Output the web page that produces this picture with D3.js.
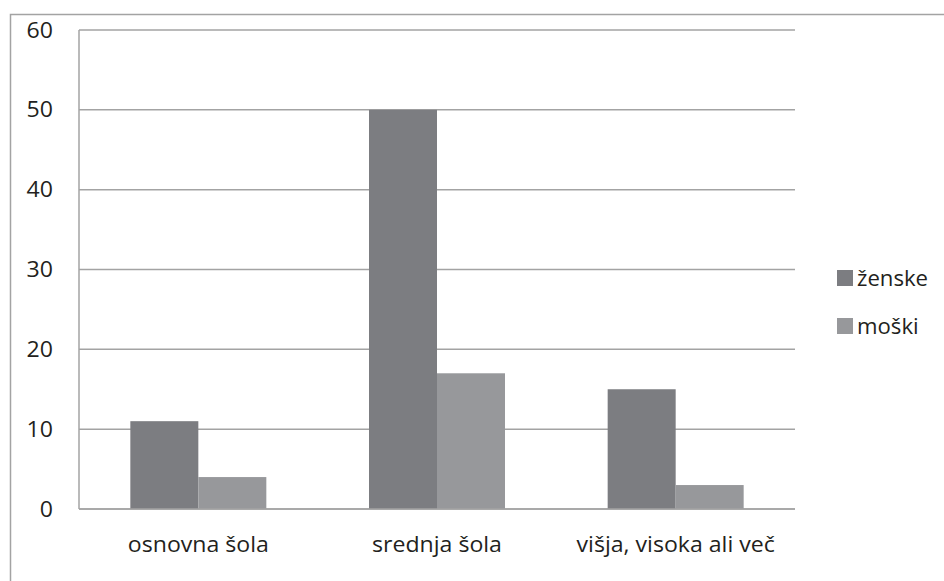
<!DOCTYPE html>
<html>
<head>
<meta charset="utf-8">
<script src="https://cdn.jsdelivr.net/npm/d3@7"></script>
<style>
  html, body { margin: 0; padding: 0; background: #fff; }
  svg { display: block; }
  text { font-family: "Open Sans", sans-serif; fill: #231f20; font-size: 21px; }
</style>
</head>
<body>
<svg id="chart" width="944" height="581"></svg>
<script>
// Education level by gender
const categories = ["osnovna šola", "srednja šola", "višja, visoka ali več"];
const seriesNames = ["ženske", "moški"];
const zenske = [11, 50, 15];
const moski = [4, 17, 3];
const yTicks = [0, 10, 20, 30, 40, 50, 60];

const colors = { "ženske": "#7c7d81", "moški": "#97989b" };
const values = { "ženske": zenske, "moški": moski };

// labels are drawn slightly wide
const stretch = 1.1;

const svg = d3.select("#chart");

// outer chart frame
svg.append("rect")
  .attr("x", 10.5).attr("y", 14.5)
  .attr("width", 960).attr("height", 600)
  .attr("fill", "none").attr("stroke", "#a3a3a3").attr("stroke-width", 1.5);

const plot = { left: 79, right: 795, top: 30, bottom: 509 };

const x = d3.scaleBand().domain(categories).range([plot.left, plot.right]);
const y = d3.scaleLinear().domain([0, 60]).range([plot.bottom, plot.top]);

// gridlines
svg.append("g").selectAll("line").data(yTicks).join("line")
  .attr("x1", plot.left).attr("x2", plot.right)
  .attr("y1", d => y(d)).attr("y2", d => y(d))
  .attr("stroke", "#a3a3a3").attr("stroke-width", 1.5);

// y axis line
svg.append("line")
  .attr("x1", plot.left).attr("x2", plot.left)
  .attr("y1", plot.top).attr("y2", plot.bottom)
  .attr("stroke", "#a3a3a3").attr("stroke-width", 1.5);

// y tick labels
svg.append("g").selectAll("text").data(yTicks).join("text")
  .attr("transform", d => `translate(53,${y(d)}) scale(${stretch},1)`)
  .attr("dy", "0.36em")
  .attr("text-anchor", "end")
  .text(d => d);

// bars: two adjacent bars centred in each category band
const barW = 68;
const groups = svg.append("g").selectAll("g").data(categories).join("g")
  .attr("transform", c => `translate(${x(c) + x.bandwidth() / 2 - barW},0)`);

groups.selectAll("rect").data((c, i) => seriesNames.map((s, j) => ({ s, j, v: values[s][i] }))).join("rect")
  .attr("x", d => d.j * barW)
  .attr("width", barW)
  .attr("y", d => y(d.v))
  .attr("height", d => y(0) - y(d.v))
  .attr("fill", d => colors[d.s]);

// zero baseline on top of bars
svg.append("line")
  .attr("x1", plot.left).attr("x2", plot.right)
  .attr("y1", y(0)).attr("y2", y(0))
  .attr("stroke", "#a3a3a3").attr("stroke-width", 1.5);

// category labels
svg.append("g").selectAll("text").data(categories).join("text")
  .attr("transform", c => `translate(${x(c) + x.bandwidth() / 2},552) scale(${stretch},1)`)
  .attr("text-anchor", "middle")
  .text(d => d);

// legend
const legend = svg.append("g").selectAll("g").data(seriesNames).join("g")
  .attr("transform", (d, i) => `translate(837,${270 + i * 48})`);
legend.append("rect").attr("width", 16).attr("height", 16).attr("fill", d => colors[d]);
legend.append("text")
  .attr("transform", `translate(20,8) scale(${stretch * 0.96},1)`)
  .attr("dy", "0.36em")
  .text(d => d);
</script>
</body>
</html>
